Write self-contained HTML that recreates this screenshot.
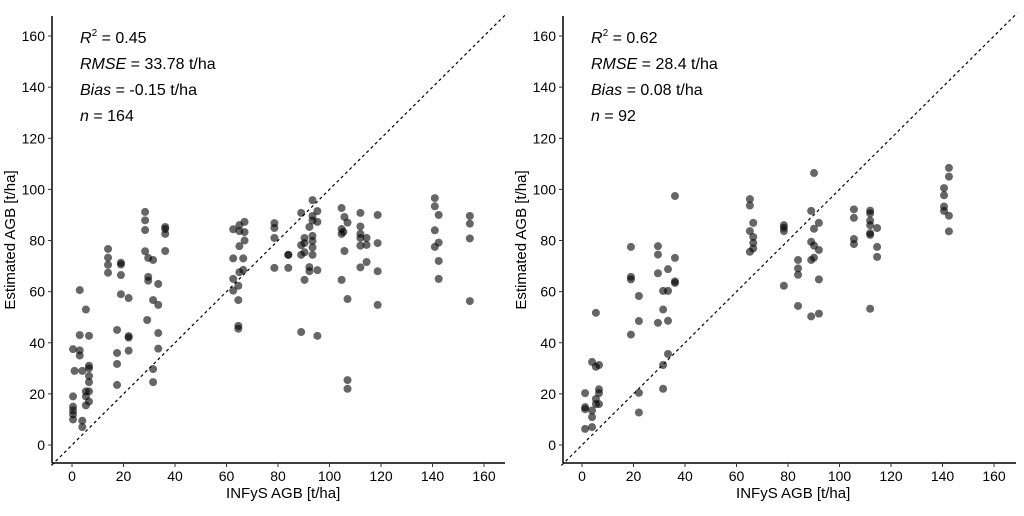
<!DOCTYPE html>
<html><head><meta charset="utf-8"><style>
body{margin:0;background:#fff;}
svg text{font-family:"Liberation Sans",Arial,sans-serif;fill:#000;}
</style></head><body>
<svg id="chart" width="1024" height="511" viewBox="0 0 1024 511" xmlns="http://www.w3.org/2000/svg"></svg>
<script>
const ticks=[0,20,40,60,80,100,120,140,160];
const leftX=[0.4,0.4,0.4,0.4,0.4,4,4,0.4,3,3,3,5.4,3,6.6,1,4,6.6,6.6,6.6,6.6,5.4,6.6,5.4,6.6,5.4,
14,14,14,14,19,19,19,19,22,17.5,22,22,17.5,22,17.5,17.5,
28.4,28.4,28.4,28.4,29.6,31.5,29.6,29.6,33.5,31.5,33.5,29.2,33.5,33.5,31.5,31.5,36.2,36.2,36.2,36.2,
62.6,65,65,67,67,67,65,62.6,66.5,66.5,65,62.6,64.6,62.6,64.6,64.6,64.6,
78.6,78.6,78.6,78.6,84,84,84,
89,93.4,95.3,93.4,93.4,95.3,92.2,90.3,93.4,93.4,89,90.3,93.4,90.3,89,93.4,92.2,92.2,95.3,90.3,89,95.3,
104.7,105.8,107,104.7,105.4,104.7,105.8,104.7,107,107,107,
112,112,112,112,112,114.4,114.4,114.4,112,118.7,118.7,118.7,118.7,
140.9,140.9,142.4,140.9,142.4,140.9,142.4,142.4,
154.5,154.5,154.5,154.5];
const leftY=[19,15,13.5,12,10,9.5,7,37.5,37,35,60.6,53,43,42.7,29,29,31,30,27,24.6,21,21,19,17,15.5,
76.7,73.3,70.5,67.4,71.3,70.6,66.5,59,57.5,45,42.6,42,36,36.9,31.7,23.5,
91.2,87.9,84.1,75.8,73.2,72.4,65.8,64.3,63,56.7,54.8,48.9,43.8,37.7,29.7,24.6,85.3,84.5,82.6,75.9,
84.4,86,83.7,87.3,83.3,80,77.8,73,73,68.5,67.6,65,62.3,60.4,56.7,46.6,45.5,
86.8,84.9,81,69.3,74.4,74.4,69.3,
90.8,95.8,91.5,89.6,87.8,87.3,85.3,81,81.8,79.8,78.2,79,77.3,75.4,74.4,74.4,69.6,68,68.4,64.6,44.2,42.7,
92.7,89.2,87,84.5,83.4,82.6,75.9,64.6,57.1,25.4,22,
90.8,85.5,82.6,81,78,81,78.3,71.6,69.5,90,79,68,54.8,
96.6,93.4,90,84,79.2,77.5,72,65,
89.6,86.6,80.8,56.3];
const rightX=[1.2,1.2,1.2,1.2,3.9,5.4,6.6,6.6,6.6,5.4,5.4,6.6,3.9,3.9,3.9,5.4,
19,19,19,22.1,22.1,19,22.1,22.1,
29.5,29.5,33.4,29.5,36.1,36.1,36.1,31.5,33.4,31.5,29.5,33.4,36.1,33.4,31.5,31.5,
65.2,65.2,66.5,65.2,66.5,66.5,66.5,65.2,
78.4,78.4,78.4,78.4,83.9,83.9,83.9,83.9,
90.1,89,92,90.1,89,90.1,92,89,90.1,92,89,92,
105.6,105.6,105.6,105.6,
111.9,111.9,111.9,111.9,111.9,111.9,114.6,114.6,114.6,111.9,
142.5,142.5,140.6,140.6,140.6,140.6,142.5,142.5];
const rightY=[20.3,14.8,14,6.3,32.5,30.6,31.3,21.8,20.3,18,16,16,13.5,10.9,7,51.7,
77.5,65.8,64.8,58.3,48.5,43.2,20.4,12.7,
77.8,74.5,68.8,67.2,73.2,64,63.4,60.3,60.3,53,47.8,48.6,97.4,35.6,31.3,22,
96.2,93.7,86.9,83.7,81.4,79.1,76.9,75.6,
86,85,83.7,62.3,72.4,69.1,66.6,54.4,
106.4,91.6,86.9,84.6,79.5,78,76.3,72.4,73.3,64.8,50.3,51.4,
92.2,88.9,80.6,78.6,
91.7,90.6,87.8,86,82.9,82.2,84.9,77.5,73.6,53.3,
108.4,105,100.5,97.7,93.3,91.6,89.7,83.6];
const leftStats=["0.45","33.78 t/ha","-0.15 t/ha","164"];
const rightStats=["0.62","28.4 t/ha","0.08 t/ha","92"];

const NS="http://www.w3.org/2000/svg";
const svg=document.getElementById('chart');
function mk(tag,attrs,parent,text){const e=document.createElementNS(NS,tag);for(const k in attrs)e.setAttribute(k,attrs[k]);if(text!==undefined)e.textContent=text;(parent||svg).appendChild(e);return e;}

function panel(name,axisX,x0,xs,ys,stats){
  const g=mk('g',{});
  
  
  const sx=v=>x0+v*2.575;
  const sy=v=>445-v*2.556;
  // diagonal
  const d=mk('line',{x1:axisX,y1:sy((x0-axisX)/2.575*-1+0),x2:sx(180),y2:sy(180),stroke:'#000','stroke-width':1.2,'stroke-dasharray':'3,3'},g);
  d.setAttribute('x1',sx(-8));d.setAttribute('y1',sy(-8));
  d.setAttribute('x2',sx(169));d.setAttribute('y2',sy(169));
  
  
  // clip white outside plot
  // points
  for(let i=0;i<xs.length;i++){
    const c=mk('circle',{cx:sx(xs[i]),cy:sy(ys[i]),r:4,fill:'rgba(0,0,0,0.6)'},g);
    
    
  }
  // axes
  const ya=mk('line',{x1:axisX,y1:16,x2:axisX,y2:463,stroke:'#000','stroke-width':1.5},g);
  
  
  const xa=mk('line',{x1:axisX,y1:463,x2:axisX+453,y2:463,stroke:'#000','stroke-width':1.5},g);
  
  
  ticks.forEach(t=>{
    mk('line',{x1:axisX-4,y1:sy(t),x2:axisX,y2:sy(t),stroke:'#333','stroke-width':1},g);
    const yl=mk('text',{x:axisX-7,y:sy(t)+5,'text-anchor':'end','font-size':14,fill:'#333'},g,t);
    
    
    mk('line',{x1:sx(t),y1:463,x2:sx(t),y2:467,stroke:'#333','stroke-width':1},g);
    const xl=mk('text',{x:sx(t),y:481,'text-anchor':'middle','font-size':14,fill:'#333'},g,t);
    
    
  });
  const xt=mk('text',{x:sx(82),y:498,'text-anchor':'middle','font-size':15},g,'INFyS AGB [t/ha]');
  
  
  const cx=axisX-37, cy=240;
  const yt=mk('text',{x:cx,y:cy,'text-anchor':'middle','font-size':15,transform:`rotate(-90 ${cx} ${cy})`},g,'Estimated AGB [t/ha]');
  
  
  // stats
  const ann=mk('text',{x:axisX+28,y:43,'font-size':16},g);
  ann.innerHTML='';
  const labels=[['R','<tspan font-style="italic">R</tspan><tspan font-size="10" dy="-7">2</tspan><tspan dy="7"> = '],['RMSE','<tspan font-style="italic">RMSE</tspan><tspan> = '],['Bias','<tspan font-style="italic">Bias</tspan><tspan> = '],['n','<tspan font-style="italic">n</tspan><tspan> = ']];
  ann.remove();
  labels.forEach((l,i)=>{
    const t=mk('text',{x:axisX+28,y:43+i*26,'font-size':16},g);
    t.innerHTML=l[1]+stats[i]+'</tspan>';
    
    
  });
}
panel('left-panel',52,72,leftX,leftY,leftStats);
panel('right-panel',563,582,rightX,rightY,rightStats);
</script>
</body></html>
